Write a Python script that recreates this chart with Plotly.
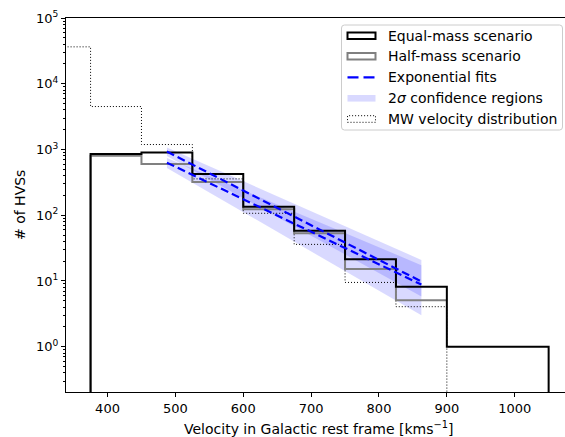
import plotly.graph_objects as go

# ---------------- data ----------------
edges_hvs = [375, 450, 525, 600, 675, 750, 825, 900, 975, 1050]
equal_counts = [850, 900, 425, 135, 58, 21.4, 8.2, 1, 1]

edges_half = [375, 450, 525, 600, 675, 750, 825, 900]
half_counts = [800, 600, 321, 123, 53, 15.2, 5.1]

edges_mw = [300, 375, 450, 525, 600, 675, 750, 825, 900]
mw_counts = [36400, 4500, 1190, 357, 107, 36, 9.5, 4.06]

fit_v = [487.5, 862.5]
fit_equal = [929, 9.8]
fit_half = [630, 8.8]
band_equal_lo = [794, 5.8]
band_equal_hi = [1072, 20.9]
band_half_lo = [525, 3.0]
band_half_hi = [741, 17.4]

xtick_vals = [400, 500, 600, 700, 800, 900, 1000]
ytick_exp = [0, 1, 2, 3, 4, 5]

legend_labels = ["Equal-mass scenario", "Half-mass scenario", "Exponential fits",
                 "2<i>σ</i> confidence regions", "MW velocity distribution"]

# ---------------- geometry ----------------
W, H = 565, 437
ML, MR, MT, MB = 66, 0, 18, 45
PW, PH = W - ML - MR, H - MT - MB
FONT = "DejaVu Sans"
BOTTOM = 1e-3
TICKFS = 13
TEXTFS = 14


def pxx(x):
    return (x - ML) / PW


def pxy(y):
    return (H - MB - y) / PH


def step_xy(edges, counts, drop_end=True):
    xs = [edges[0], edges[0]] + list(edges[1:-1]) + [edges[-1]]
    ys = [BOTTOM] + list(counts) + [counts[-1]]
    if drop_end:
        xs.append(edges[-1])
        ys.append(BOTTOM)
    return xs, ys


fig = go.Figure()

# confidence bands
for lo, hi in [(band_equal_lo, band_equal_hi), (band_half_lo, band_half_hi)]:
    fig.add_trace(go.Scatter(
        x=fit_v + fit_v[::-1], y=hi + lo[::-1], fill="toself",
        fillcolor="rgba(0,0,255,0.15)", line=dict(width=0), mode="lines",
        hoverinfo="skip", showlegend=False))

# MW distribution
x, y = step_xy(edges_mw, mw_counts)
fig.add_trace(go.Scatter(x=x, y=y, mode="lines", line_shape="hv",
                         line=dict(color="black", width=1, dash="1px,2px"),
                         showlegend=False))
# half-mass
x, y = step_xy(edges_half, half_counts, drop_end=False)
fig.add_trace(go.Scatter(x=x, y=y, mode="lines", line_shape="hv",
                         line=dict(color="#808080", width=2), showlegend=False))
# equal-mass
x, y = step_xy(edges_hvs, equal_counts)
fig.add_trace(go.Scatter(x=x, y=y, mode="lines", line_shape="hv",
                         line=dict(color="black", width=2), showlegend=False))

# fits
for f in (fit_equal, fit_half):
    fig.add_trace(go.Scatter(x=fit_v, y=f, mode="lines",
                             line=dict(color="#0000ff", width=2.2, dash="8px,4px"),
                             showlegend=False))

# ---------------- manual legend ----------------
shapes = []
annotations = []
bx0, bx1, by0, by1, r = 341.5, 562.5, 25, 130, 3
rx, ry = r / PW, r / PH
X0, X1, Y0, Y1 = pxx(bx0), pxx(bx1), pxy(by1), pxy(by0)
path = (f"M{X0+rx},{Y0} L{X1-rx},{Y0} Q{X1},{Y0} {X1},{Y0+ry} "
        f"L{X1},{Y1-ry} Q{X1},{Y1} {X1-rx},{Y1} L{X0+rx},{Y1} "
        f"Q{X0},{Y1} {X0},{Y1-ry} L{X0},{Y0+ry} Q{X0},{Y0} {X0+rx},{Y0} Z")
shapes.append(dict(type="path", xref="paper", yref="paper", path=path,
                   line=dict(color="#cccccc", width=1),
                   fillcolor="rgba(255,255,255,0.8)", layer="above"))

rows = [35.7, 56.3, 77.3, 98.3, 119.0]
ix0, ix1 = 347.5, 375.5
hh = 3.3
shapes.append(dict(type="rect", xref="paper", yref="paper",
                   x0=pxx(ix0), x1=pxx(ix1), y0=pxy(rows[0] + hh), y1=pxy(rows[0] - hh),
                   line=dict(color="black", width=2), layer="above"))
shapes.append(dict(type="rect", xref="paper", yref="paper",
                   x0=pxx(ix0), x1=pxx(ix1), y0=pxy(rows[1] + hh), y1=pxy(rows[1] - hh),
                   line=dict(color="#808080", width=2), layer="above"))
shapes.append(dict(type="line", xref="paper", yref="paper",
                   x0=pxx(ix0), x1=pxx(ix1), y0=pxy(rows[2]), y1=pxy(rows[2]),
                   line=dict(color="#0000ff", width=2.2, dash="11px,5px"), layer="above"))
shapes.append(dict(type="rect", xref="paper", yref="paper",
                   x0=pxx(ix0), x1=pxx(ix1), y0=pxy(rows[3] + hh), y1=pxy(rows[3] - hh),
                   line=dict(width=0), fillcolor="rgba(0,0,255,0.15)", layer="above"))
shapes.append(dict(type="rect", xref="paper", yref="paper",
                   x0=pxx(ix0), x1=pxx(ix1), y0=pxy(rows[4] + hh), y1=pxy(rows[4] - hh),
                   line=dict(color="black", width=1, dash="1px,2px"), layer="above"))

for lab, ry_ in zip(legend_labels, rows):
    annotations.append(dict(x=pxx(386), y=pxy(ry_), xref="paper", yref="paper",
                            text=lab, showarrow=False, xanchor="left", yanchor="middle",
                            font=dict(family=FONT, size=TEXTFS, color="black")))

# axis titles
annotations.append(dict(x=pxx(318), y=pxy(428), xref="paper", yref="paper",
                        text="Velocity in Galactic rest frame [kms<sup>−1</sup>]",
                        showarrow=False, xanchor="center", yanchor="middle",
                        font=dict(family=FONT, size=TEXTFS, color="black")))
annotations.append(dict(x=pxx(20), y=pxy(205), xref="paper", yref="paper",
                        text="# of HVSs", textangle=-90,
                        showarrow=False, xanchor="center", yanchor="middle",
                        font=dict(family=FONT, size=TEXTFS, color="black")))

minor_vals = [k * 10 ** d for d in range(-1, 5) for k in range(2, 10)]

fig.update_layout(
    width=W, height=H,
    margin=dict(l=ML, r=MR, t=MT, b=MB, pad=0),
    paper_bgcolor="white", plot_bgcolor="white",
    font=dict(family=FONT, size=TICKFS, color="black"),
    showlegend=False,
    shapes=shapes, annotations=annotations,
    xaxis=dict(range=[338.8, 1074.1], showgrid=False, zeroline=False,
               showline=True, linecolor="black", linewidth=1.3, mirror=True,
               ticks="outside", ticklen=4, tickwidth=1.1, tickcolor="black",
               tickvals=xtick_vals, ticktext=[str(v) for v in xtick_vals],
               tickfont=dict(family=FONT, size=TICKFS, color="black")),
    yaxis=dict(type="log", range=[-0.689, 5.0], showgrid=False, zeroline=False,
               showline=True, linecolor="black", linewidth=1.3,
               ticks="outside", ticklen=4, tickwidth=1.1, tickcolor="black",
               tickvals=[10 ** e for e in ytick_exp],
               ticktext=[f"10<sup>{e}</sup>" for e in ytick_exp],
               tickfont=dict(family=FONT, size=TICKFS, color="black"),
               minor=dict(tickvals=minor_vals, ticks="outside", ticklen=2,
                          tickwidth=0.8, tickcolor="black", showgrid=False)),
)

fig.write_html("out.html")
